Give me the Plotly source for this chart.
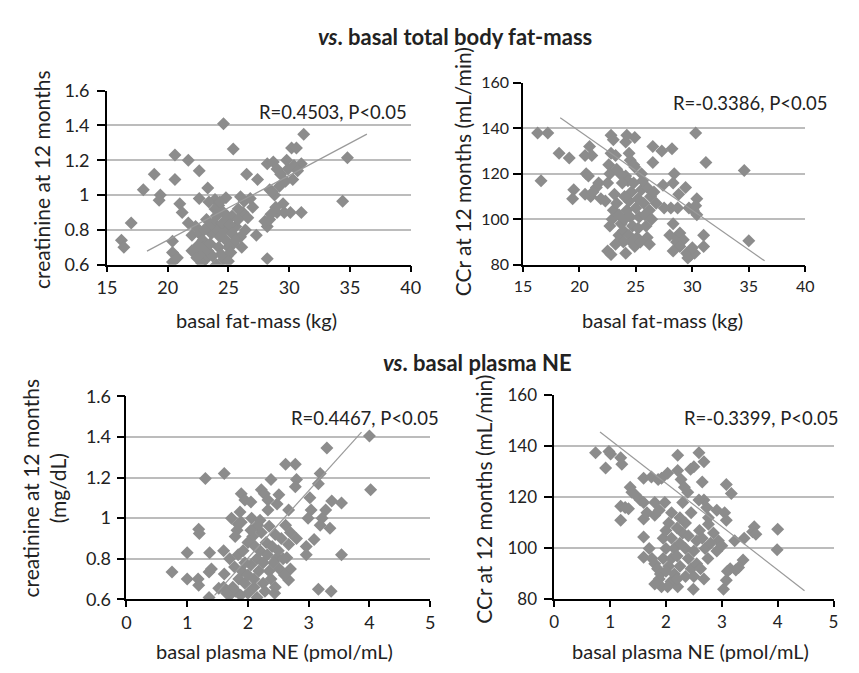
import plotly.graph_objects as go

# ---------------- data ----------------
# Panel A: basal fat-mass (kg) vs creatinine at 12 months
fat_a = [24.6, 25.4, 20.6, 21.7, 22.6, 18.9, 20.6, 18.0, 23.3, 19.4, 19.3, 22.6, 21.0, 21.2, 17.0,
         16.2, 16.4, 20.4, 20.4, 20.8, 20.4, 21.7, 22.0, 31.2, 30.2, 30.6, 28.2, 28.7, 31.0, 30.3,
         27.4, 26.5, 34.8, 34.4, 28.2, 28.2, 31.0, 30.1, 29.6, 29.0, 28.5, 27.3, 27.0, 26.3, 26.0,
         24.8, 23.9, 24.2, 23.4, 28.4, 28.8, 29.2, 29.7, 29.3, 29.9, 30.4, 29.0, 28.6, 29.5, 28.9,
         28.0, 28.4, 29.8, 30.7, 26.8, 26.2, 25.8, 26.6, 25.6, 26.4, 26.0, 25.3, 22.3, 22.6, 22.9,
         23.0, 22.7, 23.1, 22.8, 23.3, 23.5, 23.6, 23.8, 24.0, 24.1, 24.3, 24.2, 24.4, 24.6, 24.9,
         25.0, 24.8, 24.7, 24.5, 24.9, 25.1, 25.3, 25.4, 25.2, 23.7, 23.4, 23.9, 24.3, 22.5, 23.2,
         25.6, 26.1, 22.0, 24.0, 25.0, 25.8, 24.6, 23.0, 22.4]
creat_a = [1.41, 1.265, 1.23, 1.20, 1.14, 1.12, 1.09, 1.03, 1.04, 1.00, 0.97, 0.98, 0.95, 0.90, 0.84,
           0.74, 0.70, 0.735, 0.67, 0.64, 0.615, 0.84, 0.77, 1.35, 1.27, 1.27, 1.18, 1.19, 1.18, 1.09,
           1.09, 1.12, 1.215, 0.965, 0.82, 0.635, 0.90, 0.90, 0.90, 0.90, 0.89, 0.77, 0.93, 0.965, 0.99,
           0.985, 0.975, 0.94, 0.96, 1.03, 1.00, 1.05, 1.08, 1.12, 1.15, 1.17, 1.15, 1.02, 0.95, 0.93,
           0.85, 0.86, 1.20, 1.14, 0.98, 0.90, 0.92, 0.87, 0.82, 0.80, 0.76, 0.88, 0.82, 0.78, 0.74,
           0.70, 0.66, 0.63, 0.61, 0.68, 0.72, 0.78, 0.84, 0.88, 0.80, 0.76, 0.70, 0.66, 0.63, 0.65,
           0.70, 0.74, 0.80, 0.84, 0.88, 0.83, 0.78, 0.72, 0.67, 0.65, 0.82, 0.92, 0.96, 0.71, 0.86,
           0.74, 0.70, 0.68, 0.60, 0.62, 0.86, 0.90, 0.80, 0.64]

# Panel B: basal fat-mass (kg) vs CCr at 12 months (mL/min)
fat_b = [16.3, 17.2, 16.6, 18.2, 19.1, 19.5, 19.4, 20.9, 21.1, 20.5, 20.6, 20.8, 20.5, 21.0, 21.5,
         21.7, 21.2, 21.9, 22.6, 22.7, 22.5, 22.8, 23.0, 22.8, 23.2, 24.1, 24.2, 24.9, 24.4, 24.5,
         24.8, 24.9, 24.1, 24.3, 23.8, 25.5, 26.5, 27.3, 26.5, 27.4, 28.2, 28.4, 28.3, 28.8, 29.4,
         28.1, 27.5, 28.7, 29.7, 30.1, 30.3, 31.2, 30.4, 30.3, 30.4, 34.6, 35.0, 28.3, 28.0, 28.6,
         28.9, 29.2, 28.6, 28.9, 28.3, 29.5, 29.8, 30.2, 29.6, 31.0, 31.0, 30.0, 22.5, 22.8, 24.1,
         22.7, 22.9, 23.0, 23.3, 23.1, 23.5, 23.7, 23.5, 23.9, 24.0, 24.2, 24.4, 24.6, 24.5, 24.7,
         24.4, 24.6, 24.9, 25.1, 25.2, 25.3, 25.0, 25.2, 25.5, 25.7, 25.8, 25.9, 26.0, 26.2, 26.3,
         26.0, 25.6, 26.6, 26.8, 26.4, 23.3, 23.6, 22.3, 24.0, 25.4, 23.9, 23.2, 26.2, 24.8]
ccr_b = [138, 138, 117, 129, 127, 113, 109, 132, 128, 128, 120, 119, 111, 110, 114,
         116, 112, 109, 124, 120, 116, 137, 135, 129, 128, 134, 137, 136, 129, 126,
         124, 123, 119, 117, 116, 120, 132, 130, 125, 115, 131, 120, 116, 111, 114,
         105, 105, 105, 105, 104, 138, 125, 109, 106, 102, 121.5, 90.5, 98, 93, 92,
         94, 91, 90, 88, 86, 85, 84, 85, 83, 93, 88, 87.5, 86, 84.5, 85,
         97, 100, 104, 107, 111, 102, 98, 93, 95, 100, 104, 108, 112, 101, 97,
         93, 90, 88, 92, 96, 101, 105, 109, 113, 107, 102, 97, 92, 104, 110,
         114, 117, 112, 107, 100, 122, 120, 108, 110, 90, 90, 89, 89, 116]

# Panel C: basal plasma NE (pmol/mL) vs creatinine at 12 months (mg/dL)
ne_c = [0.75, 1.00, 1.00, 1.19, 1.20, 1.18, 1.19, 1.30, 1.37, 1.36, 1.40, 1.36, 1.52, 1.60, 1.61,
        1.60, 1.61, 1.73, 1.79, 1.82, 1.84, 1.89, 1.95, 2.05, 1.87, 1.89, 1.84, 1.92, 2.22, 2.27,
        2.33, 2.38, 2.33, 2.06, 2.16, 2.22, 2.08, 2.62, 2.78, 2.80, 2.78, 2.67, 2.51, 2.48, 3.30,
        3.19, 3.16, 4.00, 4.02, 3.02, 3.04, 2.99, 3.28, 3.22, 3.19, 3.38, 3.54, 3.35, 3.54, 3.09,
        2.96, 2.96, 3.16, 3.37, 2.67, 2.64, 2.70, 2.67, 2.80, 2.70, 2.62, 2.44, 2.48, 1.70, 1.75,
        1.80, 1.85, 1.90, 1.95, 2.00, 2.00, 2.05, 2.10, 2.10, 2.15, 2.18, 2.20, 2.25, 2.25, 2.28,
        2.30, 2.32, 2.35, 2.38, 2.40, 2.42, 2.45, 2.50, 2.52, 2.55, 2.58, 1.95, 2.00, 1.88, 2.12,
        2.15, 1.78, 1.70, 2.35, 2.60, 2.05, 1.65, 2.45, 2.20]
creat_c = [0.735, 0.83, 0.70, 0.945, 0.925, 0.70, 0.67, 1.195, 0.83, 0.735, 0.75, 0.61, 0.655, 0.66, 1.22,
           0.84, 0.725, 1.00, 0.91, 0.94, 0.97, 1.12, 1.09, 1.08, 1.03, 0.98, 0.82, 0.84, 1.14, 1.12,
           1.09, 1.19, 1.04, 1.00, 0.965, 0.93, 0.91, 1.265, 1.265, 1.19, 1.155, 1.04, 1.115, 1.07, 1.345,
           1.22, 1.17, 1.405, 1.14, 1.10, 1.04, 1.00, 1.04, 1.00, 0.965, 1.085, 1.075, 0.95, 0.82, 0.895,
           0.86, 0.82, 0.65, 0.64, 0.87, 0.805, 0.75, 0.695, 0.90, 0.93, 0.965, 0.63, 0.805, 0.62, 0.66,
           0.64, 0.70, 0.74, 0.68, 0.63, 0.72, 0.77, 0.70, 0.66, 0.80, 0.74, 0.84, 0.78, 0.68, 0.64,
           0.88, 0.82, 0.74, 0.70, 0.86, 0.78, 0.92, 0.84, 0.75, 0.90, 0.80, 0.78, 0.88, 0.62, 0.86,
           0.61, 0.76, 0.80, 0.96, 0.72, 0.94, 0.63, 0.66, 0.99]

# Panel D: basal plasma NE (pmol/mL) vs CCr at 12 months (mL/min)
ne_d = [0.74, 0.92, 0.98, 1.01, 1.19, 1.21, 1.19, 1.19, 1.27, 1.33, 1.36, 1.39, 1.45, 1.54, 1.60,
        1.60, 1.74, 1.86, 1.92, 2.03, 1.60, 1.60, 1.60, 1.80, 1.88, 1.80, 1.66, 2.21, 2.21, 2.27,
        2.33, 2.39, 2.44, 2.50, 2.59, 2.68, 2.65, 2.68, 2.73, 2.76, 2.76, 2.59, 3.08, 3.17, 2.91,
        3.05, 3.08, 2.94, 3.00, 2.91, 3.23, 3.40, 3.55, 3.58, 3.61, 4.00, 3.99, 3.38, 3.15, 3.25,
        3.30, 3.10, 3.08, 3.03, 2.49, 2.09, 2.21, 2.03, 1.92, 1.80, 1.88, 1.75, 1.80, 1.85, 1.90,
        1.95, 2.00, 1.95, 2.00, 2.05, 2.10, 2.15, 2.10, 2.05, 2.15, 2.20, 2.25, 2.20, 2.25, 2.30,
        2.20, 2.25, 2.35, 2.40, 2.35, 2.40, 2.45, 2.50, 2.55, 2.50, 2.55, 2.60, 2.65, 2.70, 2.75,
        2.62, 2.68, 2.80, 2.85, 2.45, 2.10, 1.98, 2.30, 1.70, 2.35, 2.00]
ccr_d = [137.5, 131.5, 138, 137, 135.5, 133, 116.5, 111, 116, 115.5, 124, 122, 121, 119, 118,
         127.5, 128, 127, 127.5, 129.5, 111.5, 104.5, 96.5, 118, 115, 113, 114, 136.5, 130.5, 127,
         124, 122, 131, 132, 137.5, 134, 126, 119, 116, 112, 109.5, 119, 125, 121.5, 115,
         114, 111, 103, 101, 99, 103, 104, 106.5, 108.5, 105.5, 107.5, 99.5, 95.5, 92, 91.5,
         92.5, 91, 87.5, 84, 84, 87, 85, 85, 85, 86, 88, 96, 94, 92, 90,
         96, 100, 104, 107, 110, 104, 100, 96, 93, 90, 88, 93, 97, 102, 106,
         108, 112, 110, 105, 100, 96, 92, 89, 94, 99, 103, 107, 104, 100, 96,
         92, 88, 102, 106, 114, 114, 118, 118, 100, 89, 91]

# regression line end points
trend_a_x = [18.3, 36.4]; trend_a_y = [0.678, 1.35]
trend_b_x = [18.3, 36.4]; trend_b_y = [144.7, 81.7]
trend_c_x = [1.45, 3.87]; trend_c_y = [0.62, 1.424]
trend_d_x = [0.82, 4.48]; trend_d_y = [145.6, 83.4]

r_labels = ["R=0.4503, P<0.05", "R=-0.3386, P<0.05", "R=0.4467, P<0.05", "R=-0.3399, P<0.05"]
fat_ticks = [15, 20, 25, 30, 35, 40]
ne_ticks = [0, 1, 2, 3, 4, 5]
creat_ticks = [0.6, 0.8, 1.0, 1.2, 1.4, 1.6]
creat_tick_text = ["0.6", "0.8", "1", "1.2", "1.4", "1.6"]
ccr_ticks = [80, 100, 120, 140, 160]

# ---------------- figure ----------------
W, H = 859, 673
OFF = 8  # the page body margin shifts the plot by this many pixels
FONT = "Lato"
TXT = "#222222"
PT = "#8c8c8c"
LINE = "#9a9a9a"
GRID = "#bcbcbc"

def px_x(p):
    return (p - OFF) / W

def px_y(p):
    return 1 - (p - OFF) / H

fig = go.Figure()

panels = [
    dict(n="", x=fat_a, y=creat_a, tx=trend_a_x, ty=trend_a_y, dx=(99, 410), dy=(81, 261),
         tfs=18, yso=4),
    dict(n="2", x=fat_b, y=ccr_b, tx=trend_b_x, ty=trend_b_y, dx=(525, 814), dy=(73, 261),
         tfs=16, yso=1),
    dict(n="3", x=ne_c, y=creat_c, tx=trend_c_x, ty=trend_c_y, dx=(119, 430), dy=(397, 607),
         tfs=18, yso=2),
    dict(n="4", x=ne_d, y=ccr_d, tx=trend_d_x, ty=trend_d_y, dx=(557, 843), dy=(396, 607),
         tfs=17, yso=4),
]

for p in panels:
    xa = "x" + p["n"]; ya = "y" + p["n"]
    fig.add_trace(go.Scatter(x=p["x"], y=p["y"], mode="markers", xaxis=xa, yaxis=ya,
                             marker=dict(symbol="diamond", size=10, color=PT, line=dict(width=0)),
                             showlegend=False, hoverinfo="skip"))
    fig.add_trace(go.Scatter(x=p["tx"], y=p["ty"], mode="lines", xaxis=xa, yaxis=ya,
                             line=dict(color=LINE, width=1.2), showlegend=False, hoverinfo="skip"))

axis_common = dict(showline=True, linecolor="black", linewidth=1.5, ticks="outside",
                   tickcolor="black", tickwidth=1.5, zeroline=False, fixedrange=True)

layout = dict(width=W, height=H, margin=dict(l=0, r=0, t=0, b=0),
              paper_bgcolor="white", plot_bgcolor="white", font=dict(family=FONT, color=TXT))

xranges = [[15, 40], [15, 40], [0, 5], [0, 5]]
xticks = [fat_ticks, fat_ticks, ne_ticks, ne_ticks]
yranges = [[0.6, 1.6], [80, 160], [0.6, 1.6], [80, 160]]
yticks = [creat_ticks, ccr_ticks, creat_ticks, ccr_ticks]
yticktext = [creat_tick_text, [str(v) for v in ccr_ticks], creat_tick_text, [str(v) for v in ccr_ticks]]

for i, p in enumerate(panels):
    n = p["n"]
    tf = dict(family=FONT, size=p["tfs"], color=TXT)
    layout["xaxis" + n] = dict(axis_common, domain=[px_x(p["dx"][0]), px_x(p["dx"][1])],
                               range=xranges[i], tickvals=xticks[i], showgrid=False,
                               ticklen=6, tickfont=tf, anchor="y" + n)
    layout["yaxis" + n] = dict(axis_common, domain=[px_y(p["dy"][1]), px_y(p["dy"][0])],
                               range=yranges[i], tickvals=yticks[i], ticktext=yticktext[i],
                               showgrid=True, gridcolor=GRID, gridwidth=2, ticklen=8,
                               tickfont=tf, ticklabelstandoff=p["yso"], anchor="x" + n)

fig.update_layout(**layout)

def ann(text, x, y, size=17, xanchor="center", angle=0):
    fig.add_annotation(text=text, x=px_x(x), y=px_y(y), xref="paper", yref="paper",
                       xanchor=xanchor, yanchor="middle", showarrow=False, textangle=angle,
                       font=dict(family=FONT, size=size, color=TXT))

# section titles
ann("<b><i>vs</i>. basal total body fat-mass</b>", 455, 25, size=22)
ann("<b><i>vs</i>. basal plasma NE</b>", 478, 362, size=22)

# R labels
ann(r_labels[0], 408, 103, size=18.5, xanchor="right")
ann(r_labels[1], 839, 94, size=18.5, xanchor="right")
ann(r_labels[2], 285, 419, size=18.5, xanchor="left")
ann(r_labels[3], 851, 419, size=18.5, xanchor="right")

# axis titles
ann("basal fat-mass (kg)", 252, 318, size=20)
ann("basal fat-mass (kg)", 668, 318, size=20)
ann("basal plasma NE (pmol/mL)", 271, 660, size=20)
ann("basal plasma NE (pmol/mL)", 697, 660, size=20)
ann("creatinine at 12 months", 32, 173, size=21, angle=-90)
ann("CCr at 12 months (mL/min)", 463, 165, size=21, angle=-90)
ann("creatinine at 12 months<br>(mg/dL)", 35, 492, size=21, angle=-90)
ann("CCr at 12 months (mL/min)", 485, 503, size=21, angle=-90)

fig.write_html("out.html")
